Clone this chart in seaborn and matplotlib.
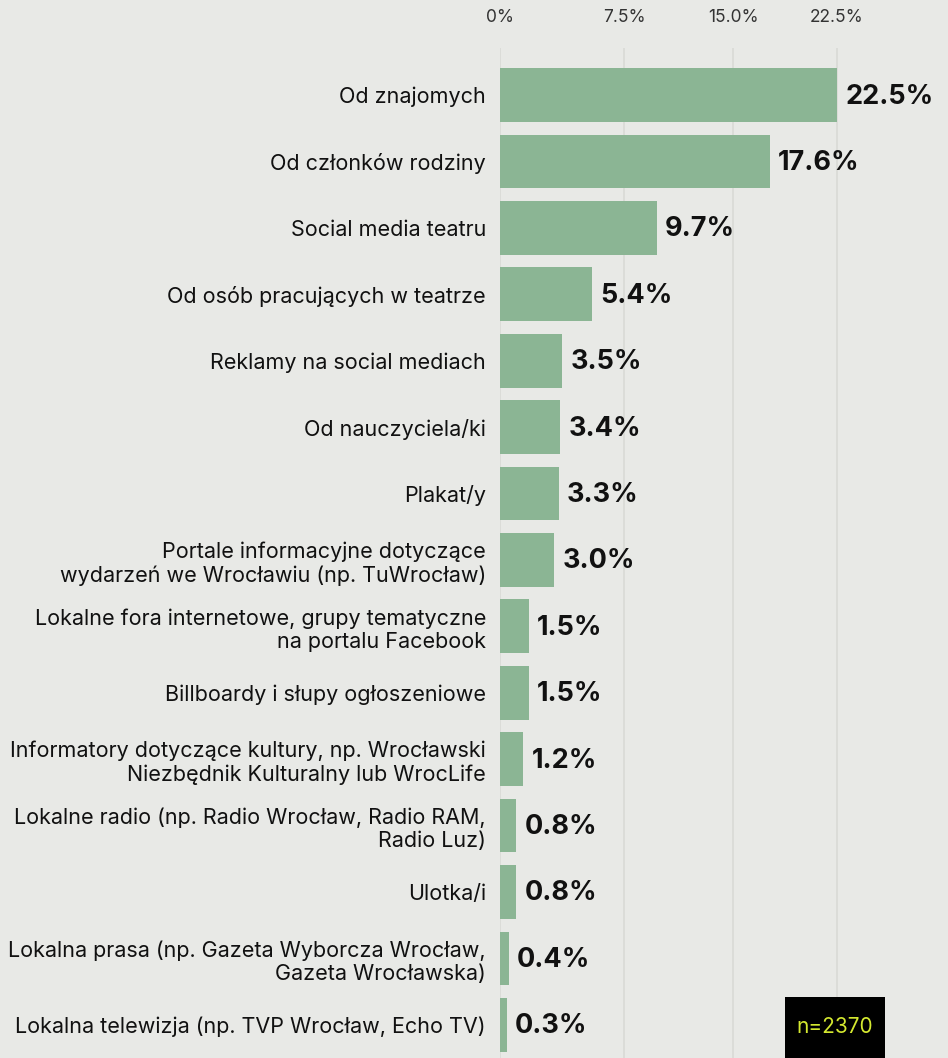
import numpy as np
import matplotlib
matplotlib.use("Agg")
import matplotlib.pyplot as plt
from matplotlib.patches import Rectangle
import seaborn as sns

# data
categories = [
    "Od znajomych",
    "Od członków rodziny",
    "Social media teatru",
    "Od osób pracujących w teatrze",
    "Reklamy na social mediach",
    "Od nauczyciela/ki",
    "Plakat/y",
    "Portale informacyjne dotyczące\nwydarzeń we Wrocławiu (np. TuWrocław)",
    "Lokalne fora internetowe, grupy tematyczne\nna portalu Facebook",
    "Billboardy i słupy ogłoszeniowe",
    "Informatory dotyczące kultury, np. Wrocławski\nNiezbędnik Kulturalny lub WrocLife",
    "Lokalne radio (np. Radio Wrocław, Radio RAM,\nRadio Luz)",
    "Ulotka/i",
    "Lokalna prasa (np. Gazeta Wyborcza Wrocław,\nGazeta Wrocławska)",
    "Lokalna telewizja (np. TVP Wrocław, Echo TV)",
]
values = [22.5, 17.6, 9.7, 5.4, 3.5, 3.4, 3.3, 3.0, 1.5, 1.5, 1.2, 0.8, 0.8, 0.4, 0.3]
ticks = [0, 7.5, 15.0, 22.5]
tick_labels = ["0%", "7.5%", "15.0%", "22.5%"]
n_total = 2370

bg = "#e8e9e6"
bar_color = "#8bb594"

sns.set_theme(style="white")
plt.rcParams["font.family"] = ["Inter", "DejaVu Sans"]

fig = plt.figure(figsize=(9.48, 10.58), dpi=100, facecolor=bg)
ax = fig.add_axes([500 / 948, 0, 438 / 948, 1 - 48 / 1058])
ax.set_facecolor(bg)

# the original axis is slightly compressed (power scale)
p = 0.91
ax.set_xscale("function", functions=(lambda x: np.power(np.clip(x, 0, None), p),
                                     lambda x: np.power(np.clip(x, 0, None), 1 / p)))

sns.barplot(x=values, y=categories, orient="h", color=bar_color, width=0.81,
            saturation=1, linewidth=0, ax=ax, zorder=2)

ax.set_xlim(0, 30)
ax.set_ylim(len(categories) - 0.5, -0.71)
ax.set_xticks(ticks)
ax.set_xticklabels(tick_labels)
ax.xaxis.tick_top()
ax.tick_params(axis="x", length=0, pad=16, labelsize=12.5, labelcolor="#333333")
ax.tick_params(axis="y", length=0, pad=10, labelsize=15.5, labelcolor="#111111")
for lab in ax.get_yticklabels():
    lab.set_multialignment("right")
ax.grid(axis="x", color="#d9dad6", linewidth=1.2, zorder=0)
ax.grid(axis="y", visible=False)
for s in ax.spines.values():
    s.set_visible(False)
ax.set_xlabel("")
ax.set_ylabel("")

for i, v in enumerate(values):
    ax.annotate(f"{v:.1f}%", xy=(v, i), xytext=(6, -1), textcoords="offset points",
                ha="left", va="center", fontsize=19.5, fontweight="bold", color="#111111")

# sample size badge in the bottom right corner
fig.add_artist(Rectangle((785 / 948, 0), 100 / 948, 61 / 1058, transform=fig.transFigure,
                         facecolor="black", edgecolor="none", zorder=5))
fig.text(835 / 948, 1 - 1027 / 1058, f"n={n_total}", ha="center", va="center",
         fontsize=15, color="#d4e830", zorder=6)

fig.savefig("out.png", dpi=100, facecolor=bg)
